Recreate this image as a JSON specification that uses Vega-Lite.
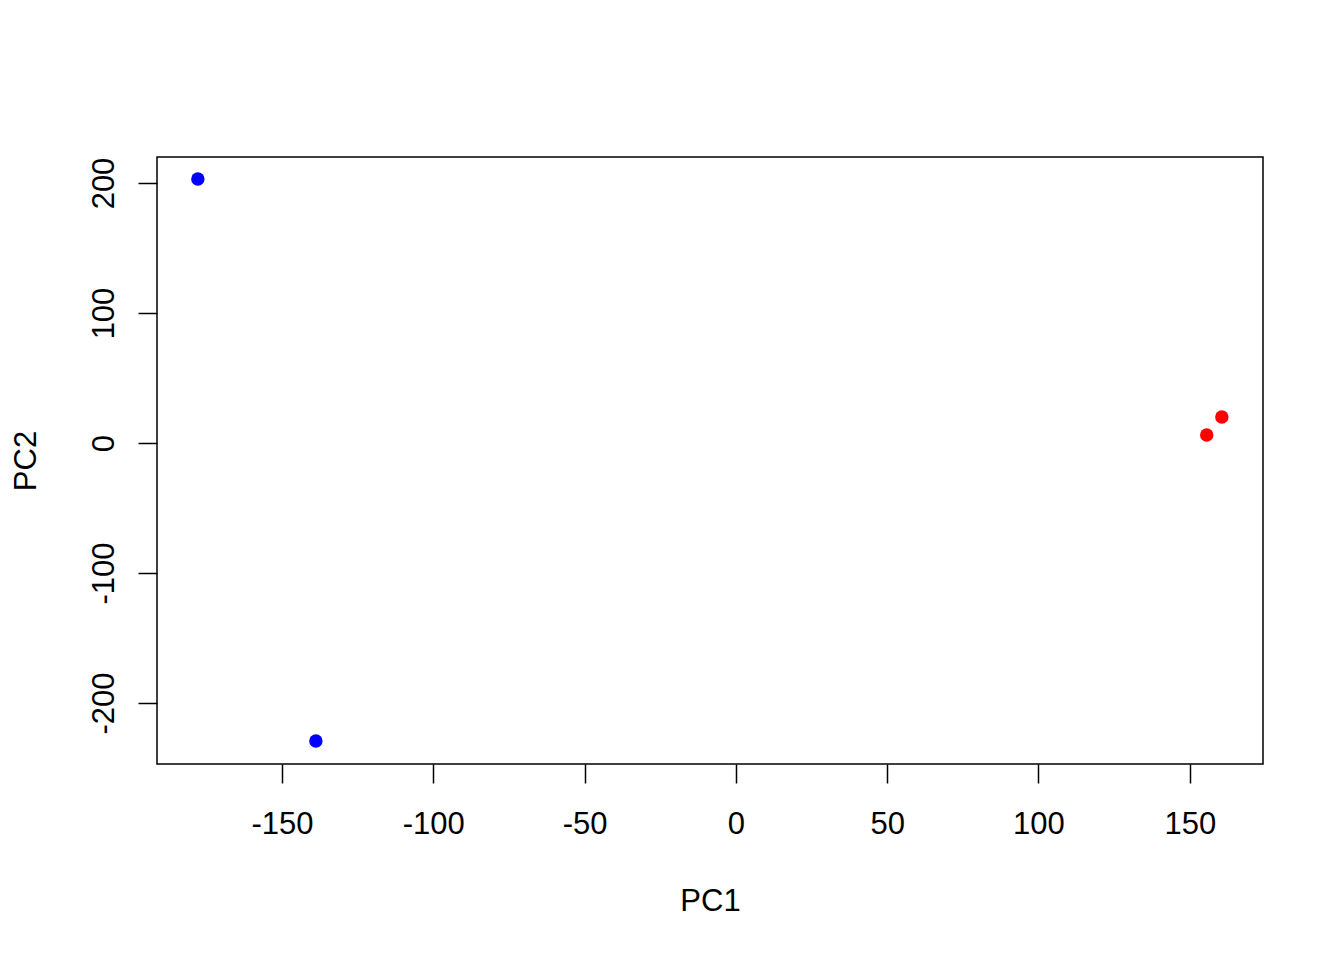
{
  "$schema": "https://vega.github.io/schema/vega-lite/v6.json",
  "autosize": "none",
  "width": 1106,
  "height": 607,
  "padding": {"left": 157, "top": 157, "right": 81, "bottom": 196},
  "background": "white",
  "config": {
    "view": {"stroke": "black", "strokeWidth": 1.5},
    "font": "Liberation Sans",
    "axis": {
      "grid": false,
      "domain": false,
      "tickColor": "black",
      "tickWidth": 1.5,
      "tickSize": 19,
      "labelFont": "Liberation Sans",
      "labelFontSize": 31,
      "labelColor": "black",
      "titleFont": "Liberation Sans",
      "titleFontSize": 31,
      "titleFontWeight": "normal",
      "titleColor": "black"
    }
  },
  "data": {
    "values": [
      {"PC1": -177.8, "PC2": 203.1, "group": "A"},
      {"PC1": -138.8, "PC2": -229.2, "group": "A"},
      {"PC1": 155.6, "PC2": 6.2, "group": "B"},
      {"PC1": 160.6, "PC2": 20.0, "group": "B"}
    ]
  },
  "mark": {"type": "point", "filled": true, "shape": "circle", "size": 180, "opacity": 1},
  "encoding": {
    "x": {
      "field": "PC1", "type": "quantitative",
      "scale": {"domain": [-191.3, 174.2], "nice": false, "zero": false},
      "axis": {"values": [-150, -100, -50, 0, 50, 100, 150], "labelExpr": "'' + datum.value", "labelPadding": 26, "labelBaseline": "top", "labelFlush": false, "labelOverlap": false, "title": "PC1", "titleY": 146, "titleBaseline": "alphabetic"}
    },
    "y": {
      "field": "PC2", "type": "quantitative",
      "scale": {"domain": [-246.9, 220], "nice": false, "zero": false},
      "axis": {"values": [-200, -100, 0, 100, 200], "labelExpr": "'' + datum.value", "labelAngle": -90, "labelAlign": "center", "labelBaseline": "alphabetic", "labelPadding": 25, "labelFlush": false, "labelOverlap": false, "title": "PC2", "titleAngle": -90, "titleX": -122, "titleBaseline": "alphabetic"}
    },
    "color": {
      "field": "group", "type": "nominal",
      "scale": {"domain": ["A", "B"], "range": ["#0000FF", "#FF0000"]},
      "legend": null
    }
  }
}
